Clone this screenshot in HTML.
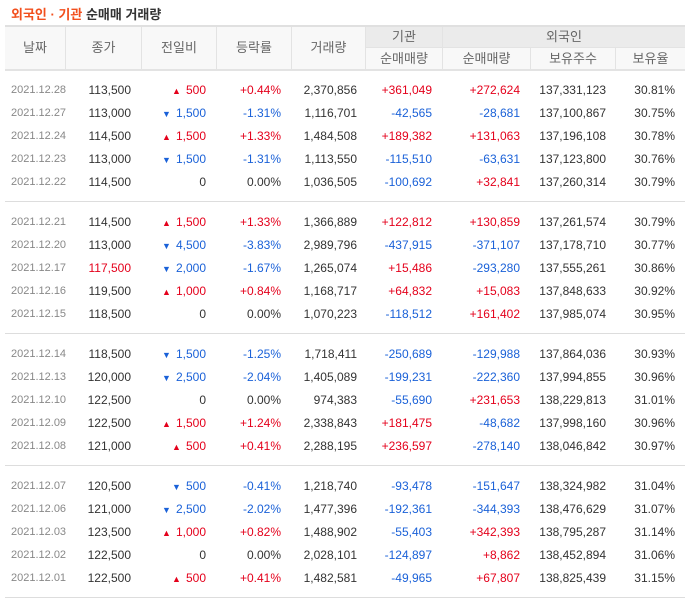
<!DOCTYPE html>
<html><head><meta charset="utf-8">
<style>
body{margin:0;width:695px;height:606px;background:#fff;position:relative;overflow:hidden;font-family:"Liberation Sans","Noto Sans CJK KR",sans-serif;}
.a{position:absolute;white-space:nowrap;}
.title{left:11px;top:4px;font-size:13px;font-weight:bold;color:#333;}
.title span{color:#f24f1d;}
.hd{position:absolute;background:#f8f8f8;font-size:13px;color:#666;text-align:center;box-sizing:border-box;}
.c{position:absolute;font-size:12px;color:#333;text-align:right;height:16px;line-height:16px;}
.up{color:#e4001b;}
.dn{color:#1a61d8;}
.dt{color:#888;font-size:11px;text-align:left;}
.ar{font-size:9px;margin-right:5px;}
.ln{position:absolute;left:5px;width:680px;height:1px;background:#ddd;}
</style></head><body>
<div class="a title"><span>외국인 · 기관</span> 순매매 거래량</div>
<div id="tbl"></div>
<script>
const dates=["2021.12.28","2021.12.27","2021.12.24","2021.12.23","2021.12.22","2021.12.21","2021.12.20","2021.12.17","2021.12.16","2021.12.15","2021.12.14","2021.12.13","2021.12.10","2021.12.09","2021.12.08","2021.12.07","2021.12.06","2021.12.03","2021.12.02","2021.12.01"];
const closes=["113,500","113,000","114,500","113,000","114,500","114,500","113,000","117,500","119,500","118,500","118,500","120,000","122,500","122,500","121,000","120,500","121,000","123,500","122,500","122,500"];
const changes=[500,-1500,1500,-1500,0,1500,-4500,-2000,1000,0,-1500,-2500,0,1500,500,-500,-2500,1000,0,500];
const rates=["+0.44%","-1.31%","+1.33%","-1.31%","0.00%","+1.33%","-3.83%","-1.67%","+0.84%","0.00%","-1.25%","-2.04%","0.00%","+1.24%","+0.41%","-0.41%","-2.02%","+0.82%","0.00%","+0.41%"];
const volumes=["2,370,856","1,116,701","1,484,508","1,113,550","1,036,505","1,366,889","2,989,796","1,265,074","1,168,717","1,070,223","1,718,411","1,405,089","974,383","2,338,843","2,288,195","1,218,740","1,477,396","1,488,902","2,028,101","1,482,581"];
const instNet=["+361,049","-42,565","+189,382","-115,510","-100,692","+122,812","-437,915","+15,486","+64,832","-118,512","-250,689","-199,231","-55,690","+181,475","+236,597","-93,478","-192,361","-55,403","-124,897","-49,965"];
const forNet=["+272,624","-28,681","+131,063","-63,631","+32,841","+130,859","-371,107","-293,280","+15,083","+161,402","-129,988","-222,360","+231,653","-48,682","-278,140","-151,647","-344,393","+342,393","+8,862","+67,807"];
const forHold=["137,331,123","137,100,867","137,196,108","137,123,800","137,260,314","137,261,574","137,178,710","137,555,261","137,848,633","137,985,074","137,864,036","137,994,855","138,229,813","137,998,160","138,046,842","138,324,982","138,476,629","138,795,287","138,452,894","138,825,439"];
const forRate=["30.81%","30.75%","30.78%","30.76%","30.79%","30.79%","30.77%","30.86%","30.92%","30.95%","30.93%","30.96%","31.01%","30.96%","30.97%","31.04%","31.07%","31.14%","31.06%","31.15%"];
const redCloses=["117,500"];

const T=document.getElementById('tbl');
const edges=[5,65,141,216,291,365,442,530,615,685];
function add(cls,txt,x,y,w,h,name,html){
  const d=document.createElement('div');
  d.className=cls;
  d.style.left=x+'px';d.style.top=y+'px';d.style.width=w+'px';
  if(h){d.style.height=h+'px';d.style.lineHeight=h+'px';}
  if(html)d.innerHTML=txt;else d.textContent=txt;
  
  
  T.appendChild(d);return d;
}
const top1=["날짜","종가","전일비","등락률","거래량"];
top1.forEach((t,i)=>{const d=add('hd',t,edges[i],27,edges[i+1]-edges[i],42,'header-'+i);if(i>0)d.style.borderLeft='1px solid #e3e3e3';});
let d=add('hd','기관',365,27,77,20,'header-institution');d.style.background='#ebebeb';d.style.borderLeft='1px solid #e3e3e3';
d=add('hd','외국인',442,27,243,20,'header-foreigner');d.style.background='#ebebeb';d.style.borderLeft='1px solid #e3e3e3';
["순매매량","순매매량","보유주수","보유율"].forEach((t,i)=>{const d=add('hd',t,edges[i+5],47,edges[i+6]-edges[i+5],22,'subheader-'+i);d.style.borderLeft='1px solid #e3e3e3';d.style.borderTop='1px solid #e3e3e3';});
const tl=document.createElement('div');tl.className='ln';tl.style.top='25px';tl.style.height='2px';tl.style.background='#e0e0e0';


T.appendChild(tl);
const bl=document.createElement('div');bl.className='ln';bl.style.top='69px';bl.style.height='2px';bl.style.background='#e3e3e3';


T.appendChild(bl);
function sc(s){return s[0]==='+'?'up':(s[0]==='-'?'dn':'');}
function fmt(n){return Math.abs(n).toString().replace(/\B(?=(\d{3})+(?!\d))/g,',');}
dates.forEach((dt,i)=>{
  const g=Math.floor(i/5),r=i%5;
  const y=82+g*132+r*23;
  add('c dt',dt,11,y,60,0,'date-cell');
  add('c'+(redCloses.includes(closes[i])?' up':''),closes[i],65,y,66,0,'close-cell');
  const ch=changes[i];
  const chtxt=ch>0?'<span class="ar">▲</span>'+fmt(ch):ch<0?'<span class="ar">▼</span>'+fmt(ch):'0';
  add('c '+(ch>0?'up':ch<0?'dn':''),chtxt,141,y,65,0,'change-cell',true);
  add('c '+sc(rates[i]),rates[i],216,y,65,0,'rate-cell');
  add('c',volumes[i],291,y,66,0,'volume-cell');
  add('c '+sc(instNet[i]),instNet[i],365,y,67,0,'institution-net-cell');
  add('c '+sc(forNet[i]),forNet[i],442,y,78,0,'foreign-net-cell');
  add('c',forHold[i],530,y,76,0,'foreign-holding-cell');
  add('c',forRate[i],615,y,60,0,'foreign-rate-cell');
  if(r===4){
    const l=document.createElement('div');l.className='ln';l.style.top=(y+27)+'px';
    
    
    T.appendChild(l);
  }
});
</script>
</body></html>
